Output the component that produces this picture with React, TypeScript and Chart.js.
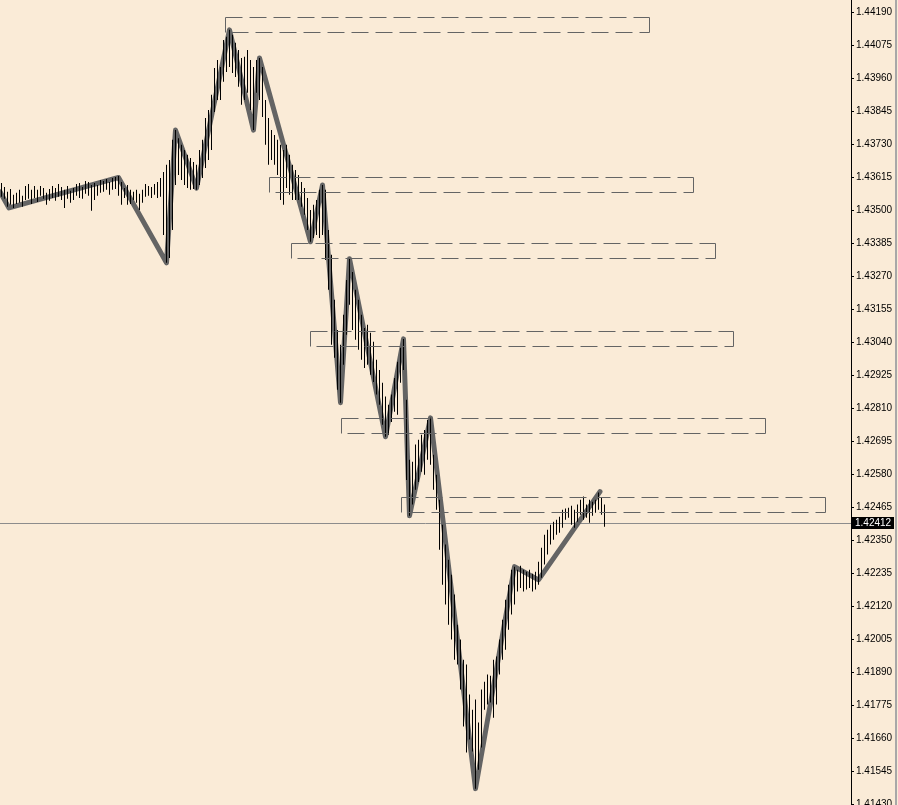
import { useEffect, useRef } from "react";
import { Chart, registerables } from "chart.js";

Chart.register(...registerables);

// Bar highs / lows (one bar per index)
const barHigh = [
  1.43595, 1.43581, 1.43564, 1.43574, 1.43554, 1.43561, 1.43571, 1.4355, 1.43584, 1.43591,
  1.43571, 1.43584, 1.43571, 1.43584, 1.43577, 1.43561, 1.43574, 1.43584, 1.43577, 1.43591,
  1.43581, 1.43571, 1.43584, 1.43568, 1.43577, 1.43591, 1.43595, 1.43581, 1.43602, 1.43598,
  1.43588, 1.43595, 1.43588, 1.43605, 1.43602, 1.43609, 1.43598, 1.43612, 1.43616, 1.43619,
  1.43598, 1.43577, 1.43588, 1.43571, 1.43564, 1.43571, 1.43557, 1.43571, 1.43591, 1.43584,
  1.43581, 1.43591, 1.43598, 1.43612, 1.43633, 1.43658, 1.43675, 1.43745, 1.43779, 1.43751,
  1.43728, 1.4371, 1.43693, 1.43682, 1.43668, 1.43658, 1.4371, 1.43745, 1.43821, 1.43849,
  1.43902, 1.43995, 1.44023, 1.43999, 1.44093, 1.44104, 1.44128, 1.44111, 1.44083, 1.44058,
  1.4403, 1.44034, 1.44058, 1.44023, 1.43999, 1.44023, 1.4403, 1.43999, 1.43884, 1.43821,
  1.43779, 1.43762, 1.43745, 1.43728, 1.4371, 1.43728, 1.43693, 1.43658, 1.4364, 1.43623,
  1.43598, 1.43577, 1.43543, 1.43501, 1.43519, 1.43536, 1.43571, 1.43588, 1.43571, 1.43431,
  1.43345, 1.43188, 1.43083, 1.43032, 1.43136, 1.43257, 1.43331, 1.43285, 1.43223, 1.43188,
  1.43136, 1.4309, 1.43101, 1.43073, 1.43042, 1.42979, 1.42944, 1.42899, 1.42851, 1.42823,
  1.42858, 1.42916, 1.42972, 1.43021, 1.43052, 1.4284, 1.42631, 1.42624, 1.42684, 1.42701,
  1.42718, 1.42735, 1.4277, 1.42777, 1.42649, 1.42579, 1.42492, 1.42405, 1.42336, 1.42283,
  1.42231, 1.42162, 1.42057, 1.42005, 1.41935, 1.41918, 1.41814, 1.41761, 1.41796, 1.41716,
  1.41831, 1.41858, 1.41883, 1.41879, 1.41935, 1.41946, 1.42005, 1.42074, 1.42144, 1.42196,
  1.42248, 1.42259, 1.42248, 1.42262, 1.42248, 1.42241, 1.42248, 1.42234, 1.42241, 1.42276,
  1.42325, 1.4237, 1.42387, 1.42405, 1.42415, 1.42422, 1.42433, 1.42457, 1.42461, 1.42464,
  1.42471, 1.42457, 1.42475, 1.42492, 1.42503, 1.42475, 1.42492, 1.42485, 1.42492, 1.42517,
  1.42499, 1.42475,
];

const barLow = [
  1.43547, 1.4354, 1.43512, 1.43519, 1.43508, 1.43522, 1.43526, 1.43512, 1.43536, 1.4354,
  1.43522, 1.43543, 1.43529, 1.4355, 1.4354, 1.43519, 1.43533, 1.43543, 1.43533, 1.43547,
  1.43536, 1.43508, 1.4354, 1.43526, 1.43536, 1.4355, 1.43543, 1.4354, 1.43557, 1.4355,
  1.43498, 1.43536, 1.4355, 1.43561, 1.43564, 1.43571, 1.43554, 1.43571, 1.43574, 1.4355,
  1.43519, 1.43543, 1.43519, 1.43522, 1.43536, 1.43526, 1.43501, 1.43526, 1.43547, 1.4355,
  1.43543, 1.43554, 1.43543, 1.43547, 1.43414, 1.43317, 1.43334, 1.43431, 1.43588, 1.43623,
  1.43605, 1.43588, 1.43577, 1.43571, 1.43574, 1.43571, 1.43588, 1.43612, 1.43647, 1.43675,
  1.4371, 1.43842, 1.43884, 1.43884, 1.43947, 1.43981, 1.43999, 1.43978, 1.43964, 1.4393,
  1.43867, 1.43884, 1.43909, 1.43849, 1.43779, 1.43909, 1.43884, 1.43825, 1.43728, 1.43658,
  1.43675, 1.43658, 1.43623, 1.43536, 1.43519, 1.43577, 1.43554, 1.43536, 1.43536, 1.43536,
  1.43512, 1.43484, 1.43431, 1.4339, 1.43403, 1.43414, 1.43403, 1.43414, 1.43327, 1.43223,
  1.43032, 1.42986, 1.42875, 1.4283, 1.42962, 1.43066, 1.43171, 1.43083, 1.43049, 1.43014,
  1.42979, 1.42951, 1.42962, 1.42927, 1.42902, 1.42858, 1.42823, 1.42753, 1.42711, 1.42718,
  1.42763, 1.42798, 1.42788, 1.42899, 1.42944, 1.42561, 1.42436, 1.42475, 1.42527, 1.42554,
  1.42589, 1.42579, 1.42631, 1.42614, 1.42527, 1.42457, 1.42318, 1.42196, 1.42127, 1.42057,
  1.42005, 1.41935, 1.41918, 1.41831, 1.41702, 1.41612, 1.41657, 1.41615, 1.41486, 1.41552,
  1.41629, 1.41761, 1.41779, 1.41786, 1.41733, 1.41779, 1.41883, 1.41935, 1.4197, 1.42039,
  1.42092, 1.42127, 1.42172, 1.42185, 1.42172, 1.42179, 1.42185, 1.42172, 1.42179, 1.42196,
  1.4222, 1.42266, 1.42301, 1.42336, 1.42353, 1.4237, 1.42377, 1.42394, 1.42422, 1.42429,
  1.42405, 1.42394, 1.42415, 1.4244, 1.42422, 1.42429, 1.42412, 1.42436, 1.42447, 1.42457,
  1.4244, 1.42398,
];

// ZigZag turning points (bar index, price)
const zigIndex = [-0.5, 2.5, 39, 55, 58, 65, 76, 84, 86, 103, 107, 113, 116, 128, 134, 136, 143, 158, 171, 179, 199.5];
const zigPrice = [
  1.43564, 1.43508, 1.43614, 1.43317, 1.43779, 1.43577, 1.44128, 1.43779, 1.4403, 1.4339,
  1.43588, 1.4283, 1.43331, 1.42711, 1.43052, 1.42436, 1.42777, 1.41486, 1.42259, 1.42213, 1.4252,
];

// Dashed rectangles (bar index range, price range)
const rectStart = [74.5, 89.2, 96.5, 102.8, 113.2, 133.2];
const rectEnd = [215.8, 230.5, 237.8, 243.8, 254.5, 274.5];
const rectTop = [1.44173, 1.43616, 1.43387, 1.4308, 1.42777, 1.42503];
const rectBottom = [1.44121, 1.43564, 1.43334, 1.43028, 1.42725, 1.4245];

// Price axis ticks
const priceTicks = [
  1.4419, 1.44075, 1.4396, 1.43845, 1.4373, 1.43615, 1.435, 1.43385, 1.4327, 1.43155,
  1.4304, 1.42925, 1.4281, 1.42695, 1.4258, 1.42465, 1.4235, 1.42235, 1.4212, 1.42005,
  1.4189, 1.41775, 1.4166, 1.41545, 1.4143,
];
const lastPrice = 1.42412;

const W = 898;
const H = 805;
const AXIS_W = 47;
const FONT_FAMILY = "'Liberation Sans', Arial, sans-serif";
const FONT_SIZE = 10;

export default function App() {
  const ref = useRef<HTMLCanvasElement>(null);

  useEffect(() => {
    const canvas = ref.current!;
    const px = (v: number) => Math.round(v) + 0.5;

    const bg = {
      id: "bg",
      beforeDraw(c: any) {
        const ctx = c.ctx;
        ctx.save();
        ctx.fillStyle = "#FAEBD7";
        ctx.fillRect(0, 0, c.width, c.height);
        ctx.restore();
      },
    };

    const overlay = {
      id: "overlay",
      beforeDatasetsDraw(c: any) {
        const ctx = c.ctx;
        const ys = c.scales.y;
        const y = px(ys.getPixelForValue(lastPrice));
        ctx.save();
        ctx.strokeStyle = "#8c8c8c";
        ctx.lineWidth = 1;
        ctx.beginPath();
        ctx.moveTo(0, y);
        ctx.lineTo(c.chartArea.right, y);
        ctx.stroke();
        ctx.restore();
      },
      afterDatasetsDraw(c: any) {
        const ctx = c.ctx;
        const xs = c.scales.x;
        const ys = c.scales.y;
        ctx.save();
        ctx.strokeStyle = "#646464";
        ctx.lineWidth = 1;
        for (let i = 0; i < rectStart.length; i++) {
          const L = px(xs.getPixelForValue(rectStart[i]));
          const R = px(xs.getPixelForValue(rectEnd[i]));
          const T = px(ys.getPixelForValue(rectTop[i]));
          const B = px(ys.getPixelForValue(rectBottom[i]));
          ctx.setLineDash([17, 7]);
          ctx.lineDashOffset = 0;
          ctx.beginPath();
          ctx.moveTo(L, T);
          ctx.lineTo(R, T);
          ctx.stroke();
          ctx.lineDashOffset = 18;
          ctx.beginPath();
          ctx.moveTo(L, B);
          ctx.lineTo(R, B);
          ctx.stroke();
          ctx.setLineDash([]);
          ctx.beginPath();
          ctx.moveTo(L, T);
          ctx.lineTo(L, B);
          ctx.moveTo(R, T);
          ctx.lineTo(R, B);
          ctx.stroke();
        }
        ctx.restore();
      },
      afterDraw(c: any) {
        const ctx = c.ctx;
        const ys = c.scales.y;
        const y0 = Math.round(ys.getPixelForValue(lastPrice));
        ctx.save();
        ctx.fillStyle = "#000";
        ctx.fillRect(852, y0 - 6, 42, 12);
        ctx.fillStyle = "#fff";
        ctx.font = `${FONT_SIZE}px ${FONT_FAMILY}`;
        ctx.textBaseline = "middle";
        ctx.textAlign = "left";
        ctx.fillText(lastPrice.toFixed(5), 855, y0 + 0.5);
        ctx.fillStyle = "#a8a8a8";
        ctx.fillRect(895, 0, 2, H);
        ctx.restore();
      },
    };

    const bars = barHigh.map((h, i) => ({ x: i, y: [barLow[i], h] }));
    const zig = zigIndex.map((x, i) => ({ x, y: zigPrice[i] }));

    const chart = new Chart(canvas, {
      type: "bar",
      data: {
        datasets: [
          {
            type: "bar",
            data: bars as any,
            backgroundColor: "#000",
            borderWidth: 0,
            barThickness: 1,
            inflateAmount: 0,
            order: 1,
          } as any,
          {
            type: "line",
            data: zig as any,
            borderColor: "#646464",
            borderWidth: 5,
            borderJoinStyle: "round",
            borderCapStyle: "round",
            pointRadius: 0,
            fill: false,
            tension: 0,
            order: 2,
          } as any,
        ],
      },
      options: {
        animation: false,
        responsive: false,
        maintainAspectRatio: false,
        events: [],
        layout: { padding: 0 },
        plugins: { legend: { display: false }, tooltip: { enabled: false } },
        scales: {
          x: {
            type: "linear",
            display: false,
            offset: false,
            min: -0.5,
            max: -0.5 + (W - AXIS_W) / 3,
            grid: { display: false },
          },
          y: {
            type: "linear",
            position: "right",
            beginAtZero: false,
            min: 1.41429,
            max: 1.44232,
            border: { display: true, color: "#000", width: 1 },
            grid: {
              display: true,
              drawOnChartArea: false,
              drawTicks: true,
              tickLength: 3,
              color: "#000",
            },
            ticks: {
              autoSkip: false,
              padding: 2,
              color: "#000",
              font: { family: FONT_FAMILY, size: FONT_SIZE },
              callback: (v: any) => Number(v).toFixed(5),
            },
            afterBuildTicks: (s: any) => {
              s.ticks = priceTicks.map((v) => ({ value: v }));
            },
            afterFit: (s: any) => {
              s.width = AXIS_W;
              s.paddingTop = 0;
              s.paddingBottom = 0;
            },
          } as any,
        },
      },
      plugins: [bg, overlay],
    });

    return () => chart.destroy();
  }, []);

  return (
    <div style={{ position: "fixed", left: 0, top: 0, width: W, height: H }}>
      <canvas ref={ref} width={W} height={H} style={{ display: "block", width: W, height: H }} />
    </div>
  );
}
